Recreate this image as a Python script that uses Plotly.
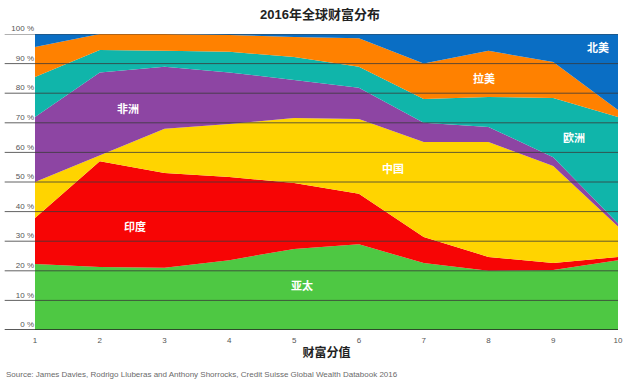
import plotly.graph_objects as go

x_vals = [1, 2, 3, 4, 5, 6, 7, 8, 9, 10]
asia_pacific = [22.3, 21.3, 21.0, 23.6, 27.4, 29.0, 22.6, 20.0, 20.3, 23.6]
india = [15.5, 35.7, 32.0, 28.1, 22.3, 17.0, 8.8, 4.7, 2.3, 1.1]
china = [12.2, 2.0, 15.0, 17.9, 21.9, 25.3, 32.1, 38.8, 32.8, 10.3]
africa = [22.0, 28.0, 20.9, 17.4, 12.9, 10.5, 6.5, 5.1, 3.0, 1.0]
europe = [13.5, 7.6, 5.4, 7.0, 7.7, 7.1, 8.0, 10.1, 20.0, 36.0]
latin_america = [10.1, 5.4, 5.7, 5.7, 6.8, 9.7, 12.0, 15.6, 12.1, 2.3]
north_america = [4.4, 0.0, 0.0, 0.3, 1.0, 1.4, 10.0, 5.7, 9.5, 25.7]

series_names = ["亚太", "印度", "中国", "非洲", "欧洲", "拉美", "北美"]
series_values = [asia_pacific, india, china, africa, europe, latin_america, north_america]
colors = ["#4ec843", "#f70505", "#ffd400", "#8d45a3", "#10b5aa", "#ff8100", "#0a6ec4"]

y_ticks = [0, 10, 20, 30, 40, 50, 60, 70, 80, 90, 100]
y_tick_text = [f"{v} %" for v in y_ticks]

# label placement (data coords)
label_x = [5.12, 2.54, 6.52, 2.44, 9.32, 7.93, 9.69]
label_y = [15.2, 34.8, 54.7, 75.0, 65.2, 84.8, 95.6]

fig = go.Figure()
for name, vals, col in zip(series_names, series_values, colors):
    fig.add_trace(go.Scatter(
        x=x_vals, y=vals, name=name, mode="lines",
        stackgroup="one", line=dict(width=0, color=col),
        fillcolor=col, hoverinfo="x+y+name",
    ))

font_fam = "Liberation Sans, Noto Sans CJK SC, sans-serif"

for name, lx, ly in zip(series_names, label_x, label_y):
    fig.add_annotation(x=lx, y=ly, text=f"<b>{name}</b>", showarrow=False,
                       font=dict(family=font_fam, size=11, color="white"))

# gridlines over areas, extending into left margin under labels
for v in y_ticks:
    fig.add_shape(type="line", xref="paper", yref="y", x0=-0.052, x1=1.0,
                  y0=v, y1=v, layer="above",
                  line=dict(color="#222222" if v == 0 else "#3a3a3a", width=1.5 if v == 0 else 0.8))

fig.add_annotation(xref="paper", yref="paper", x=-0.053, y=-0.13, xanchor="left", yanchor="top",
                   text="Source: James Davies, Rodrigo Lluberas and Anthony Shorrocks, Credit Suisse Global Wealth Databook 2016",
                   showarrow=False, font=dict(family=font_fam, size=8, color="#6a6a6a"))

fig.update_layout(
    width=640, height=385,
    margin=dict(l=35, r=22, t=34, b=55),
    paper_bgcolor="white", plot_bgcolor="white",
    showlegend=False,
    title=dict(text="<b>2016年全球财富分布</b>", x=0.5, xanchor="center", y=0.975, yanchor="top",
               font=dict(family=font_fam, size=13, color="#222222")),
    font=dict(family=font_fam),
    xaxis=dict(range=[1, 10], tickvals=x_vals, ticktext=[str(v) for v in x_vals],
               showgrid=False, zeroline=False, showline=False, ticks="",
               ticklabelstandoff=4,
               tickfont=dict(size=8, color="#555555"),
               title=dict(text="<b>财富分值</b>", font=dict(size=12, color="#222222"), standoff=4)),
    yaxis=dict(range=[0, 100], tickvals=y_ticks, ticktext=y_tick_text,
               showgrid=False, zeroline=False, showline=False, ticks="",
               ticklabelposition="outside top",
               tickfont=dict(size=8, color="#555555")),
)

fig.write_html("out.html", config={"displayModeBar": False},
               post_script="document.body.style.margin='0';")
